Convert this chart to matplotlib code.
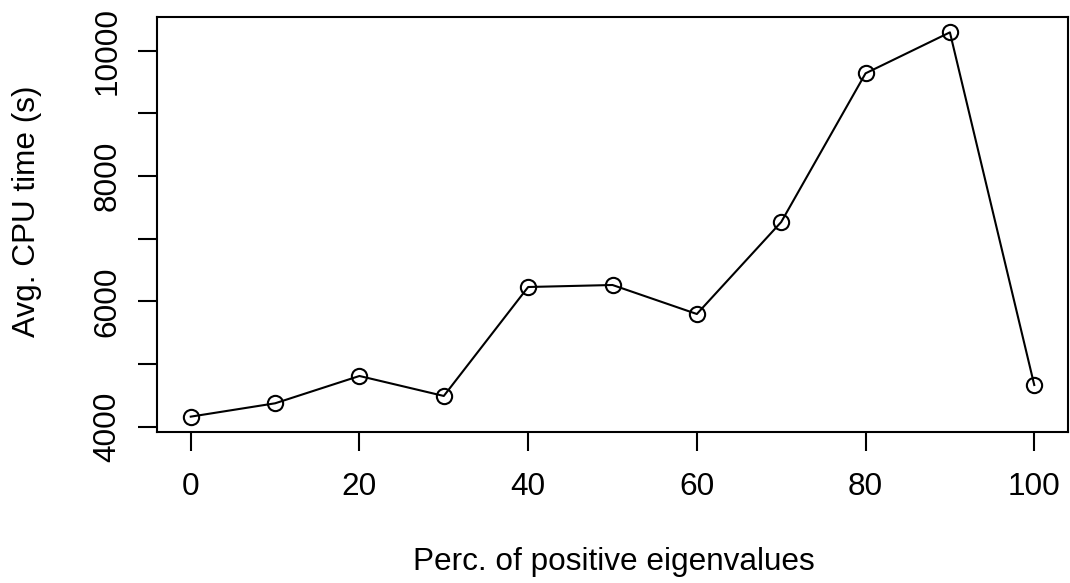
import matplotlib
matplotlib.use("Agg")
import matplotlib.pyplot as plt

perc = [0, 10, 20, 30, 40, 50, 60, 70, 80, 90, 100]
cpu_time = [4160, 4373, 4809, 4490, 6229, 6261, 5798, 7266, 9639, 10293, 4665]
x_ticks = [0, 20, 40, 60, 80, 100]
y_ticks = [4000, 5000, 6000, 7000, 8000, 9000, 10000]
y_tick_labels = ["4000", "", "6000", "", "8000", "", "10000"]

plt.rcParams['font.family'] = ['Liberation Sans', 'DejaVu Sans']
FS = 22.7

fig = plt.figure(figsize=(10.70, 5.83), dpi=100)
ax = fig.add_axes([157/1070, 1 - 432/583, (1068 - 157)/1070, (432 - 17)/583])

ax.plot(perc, cpu_time, color='black', linewidth=1.5, marker='o',
        markersize=11, markerfacecolor='none', markeredgecolor='black',
        markeredgewidth=1.5)

ax.set_xlim(-4, 104)
ax.set_ylim(3915, 10538)
ax.set_xticks(x_ticks)
ax.set_xticklabels([str(v) for v in x_ticks], fontsize=FS)
ax.set_yticks(y_ticks)
ax.set_yticklabels(y_tick_labels, fontsize=FS, rotation=90, va='center')

for s in ax.spines.values():
    s.set_linewidth(1.5)
ax.tick_params(axis='both', direction='out', length=14, width=1.5, color='black')
ax.tick_params(axis='x', pad=15)
ax.tick_params(axis='y', pad=11)

ax.set_xlabel("Perc. of positive eigenvalues", fontsize=FS)
ax.xaxis.set_label_coords(0.5015, -0.277)
ax.set_ylabel("Avg. CPU time (s)", fontsize=FS)
ax.yaxis.set_label_coords(-0.1262, 0.5325)

fig.savefig("out.png", dpi=100)
